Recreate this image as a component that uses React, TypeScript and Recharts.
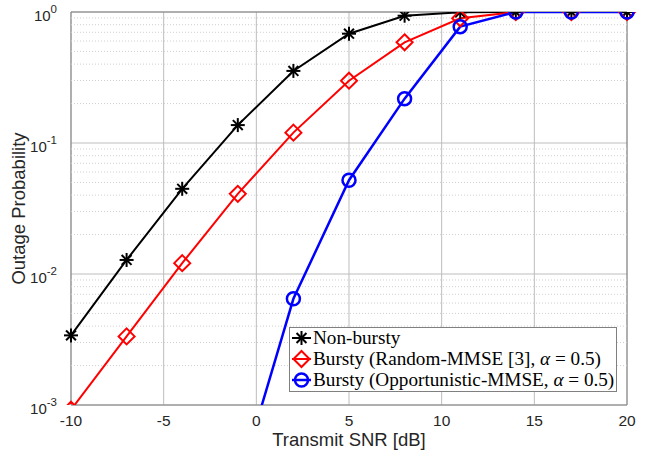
import React from 'react';
import { LineChart, Line, XAxis, YAxis, CartesianGrid, ReferenceLine, ReferenceArea, Legend } from 'recharts';

const snr = [-10, -7, -4, -1, 2, 5, 8, 11, 14, 17, 20];
const nonBursty = [0.0034, 0.0128, 0.0447, 0.137, 0.355, 0.683, 0.937, 0.995, 1, 1, 1];
const randomMmse = [0.00092, 0.00334, 0.0121, 0.0409, 0.12, 0.299, 0.587, 0.895, 1, 1, 1];
const oppMmse: (number | null)[] = [null, null, null, 0.00024, 0.00647, 0.052, 0.218, 0.773, 1, 1, 1];

const xTicks = [-10, -5, 0, 5, 10, 15, 20];
const yTicks = [0.001, 0.01, 0.1, 1];
const minorY = [2, 3, 4, 5, 6, 7, 8, 9].flatMap((m) => [m * 0.001, m * 0.01, m * 0.1]);

const seriesNames = [
  'Non-bursty',
  'Bursty (Random-MMSE [3], α = 0.5)',
  'Bursty (Opportunistic-MMSE, α = 0.5)',
];

const data = snr.map((s, i) => ({ snr: s, nb: nonBursty[i], rm: randomMmse[i], om: oppMmse[i] }));

const AXIS_FONT = '"Liberation Sans", Arial, Helvetica, sans-serif';
const SERIF = '"Liberation Serif", "Times New Roman", serif';

const Star = (cx: number, cy: number, r: number, color: string, key?: any) => {
  const d = r * 0.7071;
  return (
    <g key={key} stroke={color} strokeWidth={2}>
      <line x1={cx - r} y1={cy} x2={cx + r} y2={cy} />
      <line x1={cx} y1={cy - r} x2={cx} y2={cy + r} />
      <line x1={cx - d} y1={cy - d} x2={cx + d} y2={cy + d} />
      <line x1={cx - d} y1={cy + d} x2={cx + d} y2={cy - d} />
    </g>
  );
};
const Diamond = (cx: number, cy: number, r: number, color: string, key?: any) => (
  <polygon key={key} points={`${cx},${cy - r} ${cx + r},${cy} ${cx},${cy + r} ${cx - r},${cy}`} fill="none" stroke={color} strokeWidth={2} />
);
const Circ = (cx: number, cy: number, r: number, color: string, key?: any) => (
  <circle key={key} cx={cx} cy={cy} r={r} fill="none" stroke={color} strokeWidth={2.5} />
);

const dotStar = (p: any) => (p.value == null || p.cy == null ? <g key={p.key} /> : Star(p.cx, p.cy, 7, '#000', p.key));
const dotDiamond = (p: any) => (p.value == null || p.cy == null ? <g key={p.key} /> : Diamond(p.cx, p.cy, 8, '#ff0000', p.key));
const dotCirc = (p: any) => (p.value == null || p.cy == null ? <g key={p.key} /> : Circ(p.cx, p.cy, 6.5, '#0000ff', p.key));

const YTick = (props: any) => {
  const { x, y, payload } = props;
  const e = Math.round(Math.log10(payload.value));
  return (
    <text x={x - 6} y={y} textAnchor="end" fill="#262626" fontFamily={AXIS_FONT} fontSize={15}>
      <tspan dy={9}>10</tspan>
      <tspan dy={-8} fontSize={11.5}>{e}</tspan>
    </text>
  );
};

const XTick = (props: any) => {
  const { x, y, payload } = props;
  return (
    <text x={x} y={y + 13} textAnchor="middle" fill="#262626" fontFamily={AXIS_FONT} fontSize={15.5}>
      {payload.value}
    </text>
  );
};

const renderLabel = (text: string) => {
  const parts = text.split('α');
  if (parts.length === 1) return text;
  return (
    <>
      {parts[0]}
      <tspan fontStyle="italic">α</tspan>
      {parts[1]}
    </>
  );
};

const LegendBox = () => {
  const colors = ['#000', '#ff0000', '#0000ff'];
  const markers = [Star, Diamond, Circ];
  const sizes = [7, 8, 6.5];
  const w = 328;
  const h = 65;
  return (
    <svg width={w} height={h} style={{ display: 'block' }}>
      <rect x={0.5} y={0.5} width={w - 1} height={h - 1} fill="#fff" stroke="#808080" strokeWidth={1} />
      {seriesNames.map((n, i) => {
        const cy = 11 + i * 21;
        return (
          <g key={n}>
            <line x1={3} x2={22} y1={cy} y2={cy} stroke={colors[i]} strokeWidth={i === 2 ? 2.5 : 2} />
            {markers[i](12.5, cy, sizes[i], colors[i])}
            <text x={24} y={cy + 6} fontFamily={SERIF} fontSize={19.2} fill="#000">
              {renderLabel(n)}
            </text>
          </g>
        );
      })}
    </svg>
  );
};

export default function App() {
  return (
    <div style={{ position: 'absolute', left: 0, top: 0, background: '#fff' }}>
      <LineChart width={659} height={451} data={data} margin={{ top: 12, right: 32, left: 0, bottom: 0 }}>
        <CartesianGrid stroke="#bdbdbd" strokeWidth={1} vertical horizontal />
        {minorY.map((v) => (
          <ReferenceLine key={v} y={v} stroke="#cfcfcf" strokeDasharray="1 2" strokeWidth={1} ifOverflow="hidden" />
        ))}
        <ReferenceArea x1={-10} x2={20} y1={0.001} y2={1} fill="none" stroke="#808080" strokeWidth={1} />
        <XAxis
          dataKey="snr"
          type="number"
          domain={[-10, 20]}
          ticks={xTicks}
          tick={<XTick />}
          tickLine={false}
          axisLine={false}
          height={46}
          label={{ value: 'Transmit SNR [dB]', position: 'insideBottom', offset: 5, fill: '#262626', fontSize: 18.5, fontFamily: AXIS_FONT }}
        />
        <YAxis
          scale="log"
          domain={[0.001, 1]}
          allowDataOverflow
          ticks={yTicks}
          tick={<YTick />}
          tickLine={false}
          axisLine={false}
          width={71}
          label={{ value: 'Outage Probability', angle: -90, position: 'insideLeft', offset: 18, fill: '#262626', fontSize: 18.5, fontFamily: AXIS_FONT, style: { textAnchor: 'middle' } }}
        />
        <Legend
          layout="horizontal"
          verticalAlign="middle"
          align="center"
          content={<LegendBox />}
          wrapperStyle={{ left: 289, top: 327, width: 'auto', height: 'auto' }}
        />
        <Line dataKey="nb" name={seriesNames[0]} stroke="#000" strokeWidth={2} dot={dotStar} isAnimationActive={false} />
        <Line dataKey="rm" name={seriesNames[1]} stroke="#ff0000" strokeWidth={2} dot={dotDiamond} isAnimationActive={false} />
        <Line dataKey="om" name={seriesNames[2]} stroke="#0000ff" strokeWidth={2.5} dot={dotCirc} isAnimationActive={false} />
      </LineChart>
    </div>
  );
}
